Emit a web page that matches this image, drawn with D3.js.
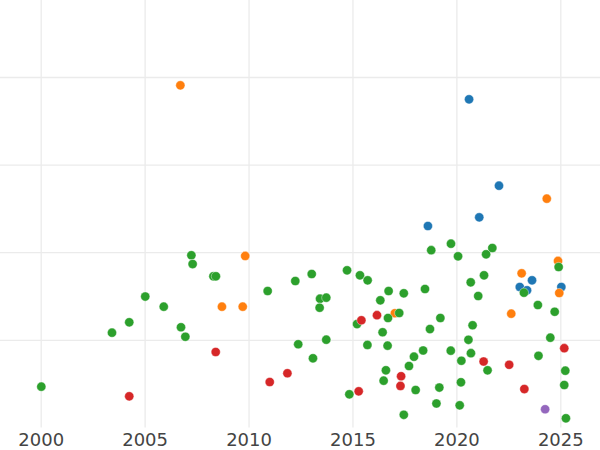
<!DOCTYPE html>
<html>
<head>
<meta charset="utf-8">
<script src="https://cdn.jsdelivr.net/npm/d3@7"></script>
<style>
  html, body { margin: 0; padding: 0; background: #fff; }
  svg { display: block; }
</style>
</head>
<body>
<svg id="chart" width="600" height="450"></svg>
<script>
// ---- data (year, value) ----
const seriesNames = ["blue", "orange", "green", "red", "purple"];
const blueYears   = [2018.63, 2020.61, 2021.10, 2022.05, 2023.05, 2023.40, 2023.64, 2025.05];
const blueValues  = [2.299, 3.745, 2.398, 2.759, 1.603, 1.565, 1.679, 1.603];

const orangeYears  = [2006.72, 2008.72, 2009.72, 2009.84, 2017.04, 2022.64, 2023.14, 2024.35, 2024.89, 2024.95];
const orangeValues = [3.905, 1.378, 1.378, 1.957, 1.303, 1.298, 1.759, 2.611, 1.900, 1.534];

const greenYears = [2000.03, 2003.43, 2004.26, 2005.03, 2005.92, 2006.75, 2006.96, 2007.25, 2007.31, 2008.31,
  2008.43, 2010.92, 2012.25, 2012.39, 2013.04, 2013.10, 2013.44, 2013.74, 2013.42, 2013.74,
  2014.74, 2014.85, 2015.22, 2015.36, 2015.73, 2015.72, 2016.34, 2016.45, 2016.50, 2016.61,
  2016.69, 2016.71, 2016.74, 2017.25, 2017.47, 2017.47, 2017.72, 2017.96, 2018.04, 2018.40,
  2018.49, 2018.73, 2018.79, 2019.04, 2019.18, 2019.23, 2019.74, 2019.73, 2020.08, 2020.16,
  2020.22, 2020.24, 2020.58, 2020.69, 2020.70, 2020.78, 2021.05, 2021.33, 2021.43, 2021.50,
  2021.73, 2023.25, 2023.92, 2023.95, 2024.52, 2024.73, 2024.92, 2025.24, 2025.19, 2025.27];
const greenValues = [0.465, 1.081, 1.200, 1.494, 1.378, 1.143, 1.035, 1.965, 1.865, 1.725,
  1.725, 1.557, 1.671, 0.949, 1.751, 0.789, 1.469, 1.481, 1.366, 1.001,
  1.793, 0.378, 1.180, 1.736, 1.679, 0.941, 1.451, 1.086, 0.533, 0.652,
  0.933, 1.249, 1.557, 1.306, 1.531, 0.144, 0.701, 0.807, 0.427, 0.878,
  1.580, 1.123, 2.023, 0.273, 0.455, 1.249, 2.097, 0.876, 1.953, 0.252,
  0.515, 0.761, 1.000, 1.656, 0.847, 1.166, 1.500, 1.736, 1.976, 0.652,
  2.048, 1.538, 1.397, 0.817, 1.024, 1.320, 1.831, 0.647, 0.484, 0.104];

const redYears  = [2004.26, 2008.42, 2011.02, 2011.87, 2015.30, 2015.43, 2016.18, 2017.31, 2017.34, 2021.31, 2022.54, 2023.27, 2025.19];
const redValues = [0.355, 0.861, 0.518, 0.618, 0.412, 1.223, 1.281, 0.473, 0.584, 0.752, 0.715, 0.438, 0.904];

const purpleYears  = [2024.27];
const purpleValues = [0.207];

const xTicks = [2000, 2005, 2010, 2015, 2020, 2025];
const yTicks = [1, 2, 3, 4];
const colors = ["#1f77b4", "#ff7f0e", "#2ca02c", "#d62728", "#9467bd"];

// ---- build ----
const allSeries = [
  [blueYears, blueValues], [orangeYears, orangeValues], [greenYears, greenValues],
  [redYears, redValues], [purpleYears, purpleValues]
].map(([xs, ys], i) => ({ name: seriesNames[i], color: colors[i], pts: xs.map((x, j) => ({ x, y: ys[j] })) }));

const W = 600, H = 450;
const x = d3.scaleLinear().domain([2000, 2025]).range([40.7, 560.3]);
const y = d3.scaleLinear().domain([0, 4]).range([427.4, 77]);
const plotBottom = y(0);

const svg = d3.select("#chart");

// horizontal grid
const gy = svg.append("g")
  .call(d3.axisLeft(y).tickValues(yTicks).tickSize(-W).tickFormat(""));
gy.select(".domain").remove();
gy.selectAll(".tick line").attr("stroke", "#ebebeb").attr("stroke-width", 1.3).attr("x1", 0).attr("x2", W);

// vertical grid + labels
const gx = svg.append("g")
  .attr("transform", `translate(0,${plotBottom})`)
  .call(d3.axisBottom(x).tickValues(xTicks).tickSize(-plotBottom).tickPadding(0).tickFormat(d3.format("d")));
gx.select(".domain").remove();
gx.selectAll(".tick line").attr("stroke", "#ebebeb").attr("stroke-width", 1.3);
gx.selectAll(".tick text")
  .attr("y", 18.2).attr("dy", null)
  .attr("fill", "#444")
  .style("font-family", "DejaVu Sans, sans-serif")
  .style("font-size", "18px");

// points
const gp = svg.append("g");
allSeries.forEach(s => {
  gp.append("g").selectAll("circle").data(s.pts).join("circle")
    .attr("cx", d => x(d.x)).attr("cy", d => y(d.y))
    .attr("r", 4.6)
    .attr("fill", s.color)
    .attr("stroke", "#fff").attr("stroke-width", 0.4);
});
</script>
</body>
</html>
